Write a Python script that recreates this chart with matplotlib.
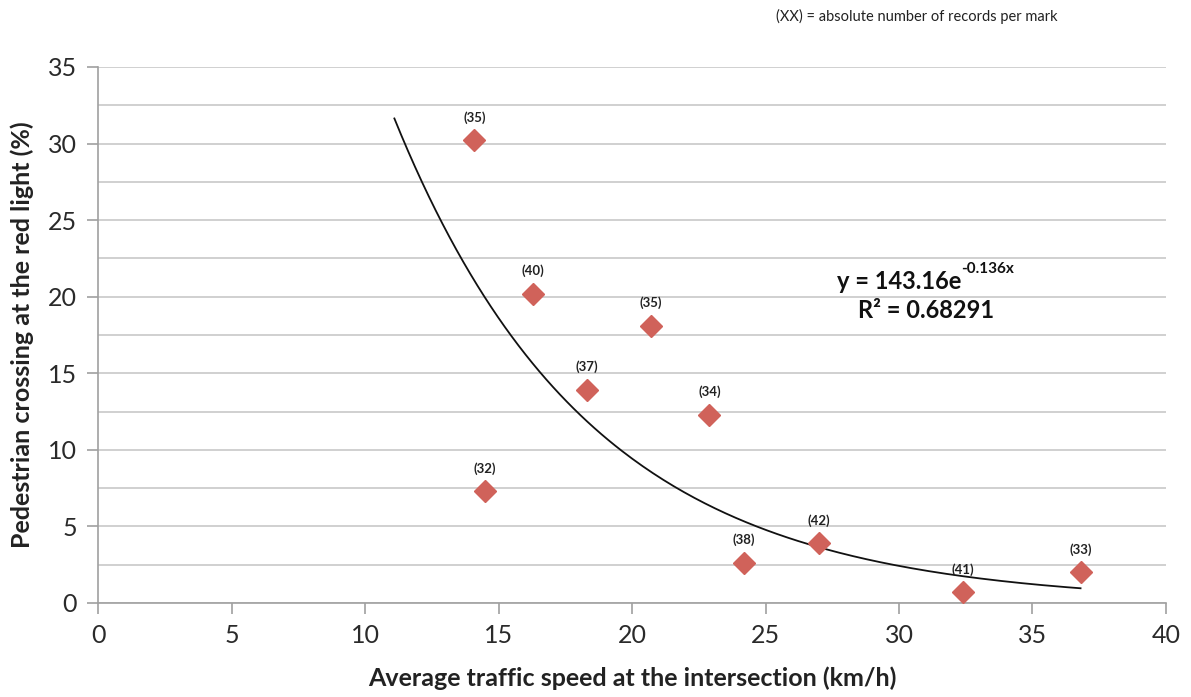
import numpy as np
import matplotlib.pyplot as plt
from matplotlib.ticker import MultipleLocator

plt.rcParams['font.family'] = ['Lato', 'DejaVu Sans']

# average traffic speed (km/h) and share crossing at red (%)
speed = [14.1, 16.3, 20.7, 18.3, 22.9, 14.5, 24.2, 27.0, 32.4, 36.8]
crossing = [30.2, 20.2, 18.1, 13.9, 12.3, 7.3, 2.6, 3.9, 0.7, 2.0]
records = [35, 40, 35, 37, 34, 32, 38, 42, 41, 33]

# exponential trendline reported on the chart
fit_a = 143.16
fit_b = -0.136
fit_r2 = 0.68291
fit_range = (11.1, 36.8)

fig = plt.figure(figsize=(11.91, 6.97), dpi=100)
ax = fig.add_axes([0.0823, 0.1349, 0.8967, 0.769])

ax.set_xlim(0, 40)
ax.set_ylim(0, 35)
ax.xaxis.set_major_locator(MultipleLocator(5))
ax.yaxis.set_major_locator(MultipleLocator(5))
ax.yaxis.set_minor_locator(MultipleLocator(2.5))
ax.grid(axis='y', which='both', color='#c8c8c8', linewidth=1.2)
ax.set_axisbelow(True)

for side in ['top', 'right']:
    ax.spines[side].set_visible(False)
for side in ['left', 'bottom']:
    ax.spines[side].set_color('#a0a0a0')
    ax.spines[side].set_linewidth(1.2)
ax.tick_params(which='major', length=8, width=1.2, color='#a0a0a0',
               labelsize=18, labelcolor='#2a2a2a', pad=7)
ax.tick_params(axis='y', which='minor', length=0)

xs = np.linspace(fit_range[0], fit_range[1], 200)
ax.plot(xs, fit_a * np.exp(fit_b * xs), color='#111111', linewidth=1.3, zorder=3)

ax.plot(speed, crossing, linestyle='none', marker='D', markersize=11,
        color='#d0625a', zorder=4)
for x, y, n in zip(speed, crossing, records):
    ax.annotate(f'({n})', (x, y), xytext=(0, 12), textcoords='offset points',
                ha='center', va='bottom', fontsize=9.5, fontweight='bold',
                color='#222222')

eq = ax.text(30.0, 21.0, f'y = {fit_a:.2f}e', ha='center', va='center',
             fontsize=17, fontweight='bold', color='#111111')
ax.annotate(f'{fit_b:.3f}x', xy=(1.0, 0.72), xycoords=eq, ha='left',
            va='bottom', fontsize=11, fontweight='bold', color='#111111')
ax.text(31.0, 19.1, f'R² = {fit_r2:.5f}', ha='center', va='center',
        fontsize=17, fontweight='bold', color='#111111')

ax.set_xlabel('Average traffic speed at the intersection (km/h)',
              fontsize=18, fontweight='bold', color='#222222', labelpad=14)
ax.set_ylabel('Pedestrian crossing at the red light (%)',
              fontsize=18, fontweight='bold', color='#222222', labelpad=10)

fig.text(0.77, 0.977, '(XX) = absolute number of records per mark',
         ha='center', va='center', fontsize=10.5, color='#222222')

fig.savefig('out.png', dpi=100, facecolor='white')
